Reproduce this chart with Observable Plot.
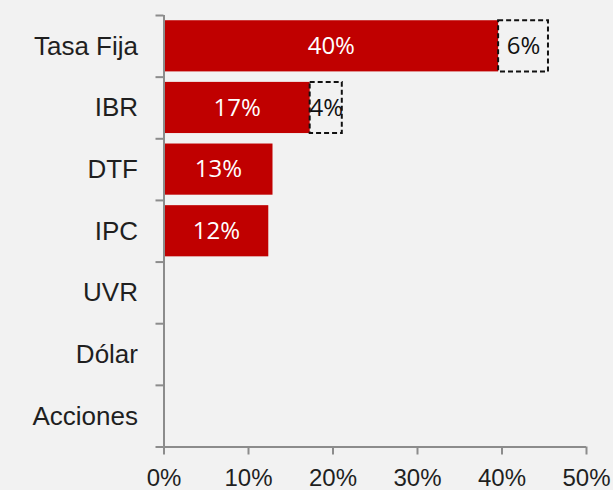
<!DOCTYPE html>
<html>
<head>
<meta charset="utf-8">
<script src="https://cdn.jsdelivr.net/npm/d3@7"></script>
<script src="https://cdn.jsdelivr.net/npm/@observablehq/plot@0.6"></script>
<style>
  html, body { margin: 0; padding: 0; background: #F2F2F2; }
  #chart svg { display: block; background: #F2F2F2; }
</style>
</head>
<body>
<div id="chart"></div>
<script>
const categories = ["Tasa Fija", "IBR", "DTF", "IPC", "UVR", "Dólar", "Acciones"];
const baseValues = [0.396, 0.173, 0.129, 0.124, 0, 0, 0];
const extraValues = [0.059, 0.038, 0, 0, 0, 0, 0];
const xTicks = [0, 0.1, 0.2, 0.3, 0.4, 0.5];

const rows = categories.map((c, i) => ({cat: c, i, base: baseValues[i], extra: extraValues[i]}));
const baseRows = rows.filter(d => d.base > 0);
const extraRows = rows.filter(d => d.extra > 0);
const pct = d3.format(".0%");
const axisColor = "#8c8c8c";
const textColor = "#1f1f1f";
const labelFont = "'Liberation Sans', Arial, sans-serif";
const dataFont = "'Open Sans', 'Liberation Sans', sans-serif";

const chart = Plot.plot({
  width: 613,
  height: 490,
  marginLeft: 163.5,
  marginRight: 27,
  marginTop: 15,
  marginBottom: 43.5,
  style: {background: "#F2F2F2", fontFamily: labelFont, overflow: "visible"},
  x: {domain: [0, 0.5]},
  y: {domain: [0, categories.length], reverse: true},
  marks: [
    Plot.rectX(baseRows, {x1: 0, x2: "base", y1: d => d.i + 0.085, y2: d => d.i + 0.915, fill: "#C00000"}),
    Plot.rectX(extraRows, {x1: "base", x2: d => d.base + d.extra, y1: d => d.i + 0.085, y2: d => d.i + 0.915,
      fill: "none", stroke: "#111", strokeWidth: 2, strokeDasharray: "5,3"}),
    Plot.text(baseRows, {x: d => d.base / 2, y: d => d.i + 0.5, text: d => pct(d.base), fill: "white",
      fontSize: 24, fontFamily: dataFont}),
    Plot.text(extraRows, {x: d => d.base + d.extra / 2, y: d => d.i + 0.5, text: d => pct(d.extra), fill: "#111",
      fontSize: 24, fontFamily: dataFont}),
    Plot.ruleX([0], {stroke: axisColor, strokeWidth: 2}),
    Plot.ruleY([categories.length], {stroke: axisColor, strokeWidth: 2}),
    Plot.axisY(d3.range(0, categories.length + 1), {tickSize: 8, tickFormat: () => "", stroke: axisColor, strokeWidth: 2, label: null}),
    Plot.axisY(categories.map((c, i) => i + 0.5), {tickSize: 0, tickPadding: 26, tickFormat: v => categories[Math.floor(v)],
      fontSize: 26, fill: textColor, label: null}),
    Plot.axisX(xTicks, {tickSize: 8, tickPadding: 14, tickFormat: pct, stroke: axisColor, strokeWidth: 2,
      fill: textColor, fontSize: 24, label: null})
  ]
});
document.getElementById("chart").appendChild(chart);
</script>
</body>
</html>
